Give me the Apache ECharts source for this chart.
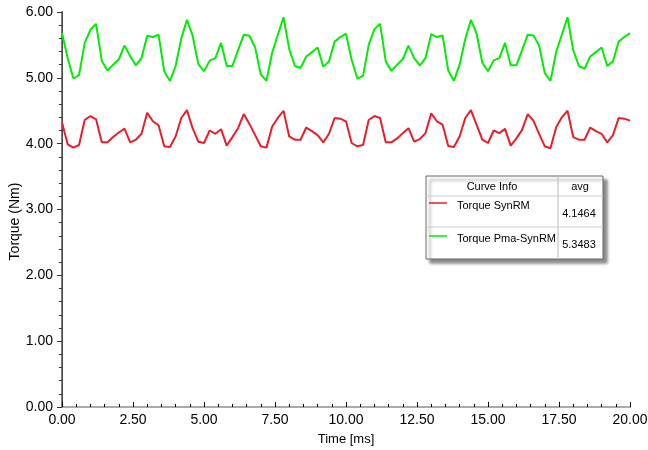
<!DOCTYPE html>
<html>
<head>
<meta charset="utf-8">
<script src="https://cdn.jsdelivr.net/npm/echarts@6/dist/echarts.min.js"></script>
<style>
html,body{margin:0;padding:0;background:#fff;}
#c{width:648px;height:450px;}
</style>
</head>
<body>
<div id="c"></div>
<script>
// Time samples [ms]
var timeMs = [0.0,0.2,0.4,0.6,0.8,1.0,1.2,1.4,1.6,1.8,2.0,2.2,2.4,2.6,2.8,3.0,3.2,3.4,3.6,3.8,
4.0,4.2,4.4,4.6,4.8,5.0,5.2,5.4,5.6,5.8,6.0,6.2,6.4,6.6,6.8,7.0,7.2,7.4,7.6,7.8,
8.0,8.2,8.4,8.6,8.8,9.0,9.2,9.4,9.6,9.8,10.0,10.2,10.4,10.6,10.8,11.0,11.2,11.4,11.6,11.8,
12.0,12.2,12.4,12.6,12.8,13.0,13.2,13.4,13.6,13.8,14.0,14.2,14.4,14.6,14.8,15.0,15.2,15.4,15.6,15.8,
16.0,16.2,16.4,16.6,16.8,17.0,17.2,17.4,17.6,17.8,18.0,18.2,18.4,18.6,18.8,19.0,19.2,19.4,19.6,19.8,20.0];

// Torque SynRM [Nm]
var torqueSynRM = [4.32,3.99,3.94,3.98,4.36,4.42,4.37,4.02,4.02,4.10,4.17,4.23,4.02,4.06,4.15,4.47,4.34,4.28,3.96,3.95,
4.11,4.39,4.51,4.235,4.03,4.01,4.20,4.15,4.22,3.97,4.10,4.235,4.45,4.30,4.13,3.96,3.94,4.26,4.39,4.50,
4.11,4.06,4.06,4.245,4.19,4.13,4.02,4.15,4.39,4.38,4.34,4.01,3.96,3.98,4.36,4.42,4.39,4.02,4.02,4.08,
4.16,4.235,4.03,4.07,4.16,4.46,4.34,4.29,3.965,3.95,4.11,4.39,4.51,4.285,4.06,4.01,4.20,4.16,4.225,3.97,
4.08,4.21,4.45,4.35,4.15,3.96,3.93,4.25,4.40,4.50,4.10,4.06,4.06,4.245,4.19,4.15,4.02,4.13,4.39,4.38,4.35];

// Torque Pma-SynRM [Nm]
var torquePmaSynRM = [5.68,5.30,4.99,5.04,5.53,5.73,5.82,5.26,5.11,5.20,5.28,5.49,5.33,5.19,5.30,5.64,5.62,5.655,5.10,4.95,
5.18,5.60,5.88,5.64,5.21,5.10,5.26,5.30,5.53,5.18,5.18,5.42,5.655,5.64,5.46,5.05,4.955,5.38,5.655,5.92,
5.44,5.18,5.15,5.325,5.39,5.46,5.17,5.25,5.55,5.62,5.67,5.27,4.99,5.03,5.50,5.74,5.82,5.25,5.105,5.20,
5.285,5.49,5.30,5.19,5.30,5.665,5.62,5.645,5.11,4.955,5.20,5.59,5.88,5.67,5.23,5.10,5.265,5.30,5.53,5.19,
5.19,5.42,5.655,5.645,5.49,5.07,4.955,5.39,5.655,5.92,5.42,5.18,5.14,5.325,5.39,5.46,5.18,5.25,5.55,5.62,5.68];

var curveNames = ['Torque SynRM', 'Torque Pma-SynRM'];
var curveAvg = ['4.1464', '5.3483'];
var curveColors = ['#ec1c28', '#00ee00'];
var xTickLabels = ['0.00','2.50','5.00','7.50','10.00','12.50','15.00','17.50','20.00'];
var yTickLabels = ['0.00','1.00','2.00','3.00','4.00','5.00','6.00'];

function pairs(t, v){ var o=[]; for (var i=0;i<t.length;i++) o.push([t[i], v[i]]); return o; }

var FONT = 'Liberation Sans, Arial, sans-serif';
var chart = echarts.init(document.getElementById('c'), null, {renderer:'canvas'});

var legendX = 426, legendY = 176, legendW = 177, legendH = 83, colX = 558;
var graphic = [
  {type:'rect', shape:{x:legendX, y:legendY, width:legendW, height:legendH},
   style:{fill:'#fff', stroke:'#666', lineWidth:1, shadowColor:'rgba(0,0,0,0.45)', shadowBlur:3, shadowOffsetX:4, shadowOffsetY:4}, z:10},
  {type:'line', shape:{x1:colX, y1:legendY, x2:colX, y2:legendY+legendH}, style:{stroke:'#bbb', lineWidth:1}, z:11},
  {type:'line', shape:{x1:legendX, y1:196, x2:legendX+legendW, y2:196}, style:{stroke:'#ccc', lineWidth:1}, z:11},
  {type:'line', shape:{x1:legendX, y1:227, x2:legendX+legendW, y2:227}, style:{stroke:'#ccc', lineWidth:1}, z:11},
  {type:'text', x:492, y:187, style:{text:'Curve Info', fill:'#000', font:'11px '+FONT, textAlign:'center', textVerticalAlign:'middle'}, z:12},
  {type:'text', x:580, y:187, style:{text:'avg', fill:'#000', font:'11px '+FONT, textAlign:'center', textVerticalAlign:'middle'}, z:12}
];
var rowY = [[203, 206, 214], [236, 239, 245]];
for (var i=0;i<2;i++){
  graphic.push({type:'line', shape:{x1:429, y1:rowY[i][0], x2:447, y2:rowY[i][0]}, style:{stroke:curveColors[i], lineWidth:1.5}, z:12});
  graphic.push({type:'text', x:457, y:rowY[i][1], style:{text:curveNames[i], fill:'#000', font:'11px '+FONT, textAlign:'left', textVerticalAlign:'middle'}, z:12});
  graphic.push({type:'text', x:579, y:rowY[i][2], style:{text:curveAvg[i], fill:'#000', font:'11px '+FONT, textAlign:'center', textVerticalAlign:'middle'}, z:12});
}

chart.setOption({
  animation:false,
  backgroundColor:'#fff',
  textStyle:{fontFamily:FONT},
  grid:{left:62, right:18, top:12, bottom:43, containLabel:false, outerBoundsMode:'none'},
  xAxis:[{
    type:'value', min:0, max:20, interval:2.5,
    name:'Time [ms]', nameLocation:'middle', nameGap:26,
    nameTextStyle:{color:'#000', fontSize:13, fontFamily:FONT},
    axisLine:{show:true, lineStyle:{color:'#aaa', width:1}},
    axisTick:{show:true, inside:true, length:5, lineStyle:{color:'#000'}},
    minorTick:{show:true, splitNumber:5, length:3, lineStyle:{color:'#000'}},
    axisLabel:{color:'#000', fontSize:14, fontFamily:FONT, margin:6,
      formatter:function(v){ var idx=Math.round(v/2.5); return xTickLabels[idx] !== undefined ? xTickLabels[idx] : ''; }},
    splitLine:{show:false}
  },{
    type:'value', position:'top', min:0, max:20,
    axisLine:{show:true, lineStyle:{color:'#aaa', width:2}},
    axisTick:{show:false}, axisLabel:{show:false}, splitLine:{show:false}
  }],
  yAxis:[{
    type:'value', min:0, max:6, interval:1,
    name:'Torque (Nm)', nameLocation:'middle', nameGap:40, nameRotate:90, nameMoveOverlap:false,
    nameTextStyle:{color:'#000', fontSize:14, fontFamily:FONT, padding:[0,24,0,0]},
    axisLine:{show:true, lineStyle:{color:'#333', width:1}},
    axisTick:{show:true, inside:false, length:5, lineStyle:{color:'#333'}},
    minorTick:{show:true, splitNumber:5, length:3, lineStyle:{color:'#333'}},
    axisLabel:{color:'#000', fontSize:14, fontFamily:FONT, margin:9,
      formatter:function(v){ var idx=Math.round(v); return yTickLabels[idx] !== undefined ? yTickLabels[idx] : ''; }},
    splitLine:{show:false}
  },{
    type:'value', position:'right', min:0, max:6,
    axisLine:{show:true, lineStyle:{color:'#555', width:1.5}},
    axisTick:{show:false}, axisLabel:{show:false}, splitLine:{show:false}
  }],
  series:[
    {name:curveNames[0], type:'line', data:pairs(timeMs, torqueSynRM), showSymbol:false, symbol:'none',
     lineStyle:{color:curveColors[0], width:2}, itemStyle:{color:curveColors[0]}, z:5},
    {name:curveNames[1], type:'line', data:pairs(timeMs, torquePmaSynRM), showSymbol:false, symbol:'none',
     lineStyle:{color:curveColors[1], width:2}, itemStyle:{color:curveColors[1]}, z:5}
  ],
  graphic:graphic
});
</script>
</body>
</html>
